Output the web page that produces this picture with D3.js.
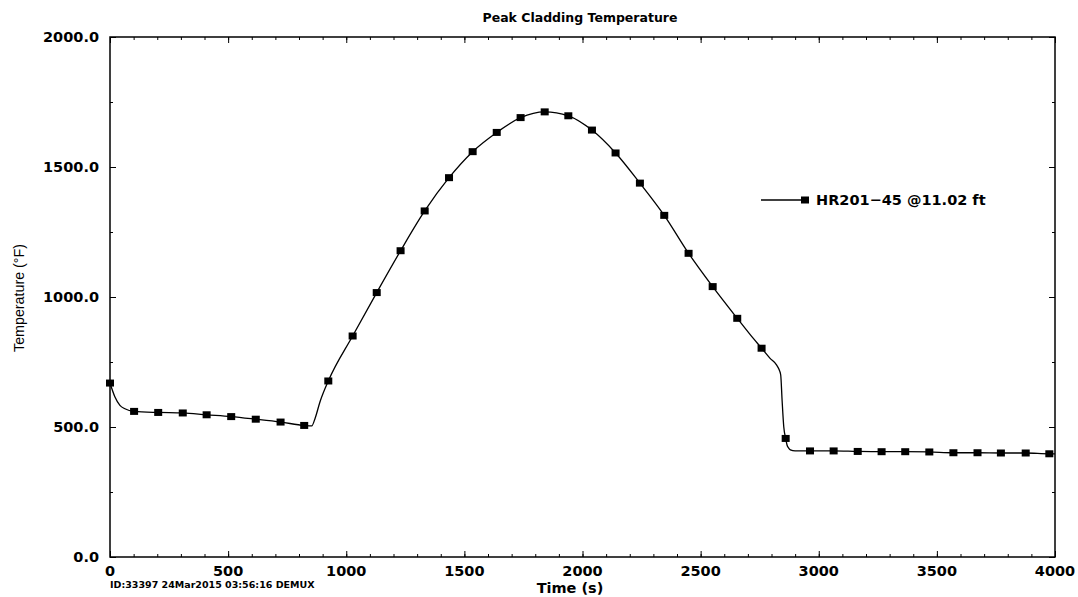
<!DOCTYPE html>
<html>
<head>
<meta charset="utf-8">
<script src="https://cdn.jsdelivr.net/npm/d3@7"></script>
<style>
  body { margin: 0; background: #fff; }
  text { fill: #000; }
</style>
</head>
<body>
<div id="chart"></div>
<script>
// curve (time s, temperature F)
const lineTime = [0, 21, 42, 63, 102, 204, 308, 409, 513, 617, 722, 822, 854, 868, 889, 924, 1027,
  1129, 1230, 1332, 1435, 1535, 1637, 1738, 1840, 1940, 2040, 2140, 2243, 2346, 2449, 2551,
  2655, 2709, 2758, 2794, 2822, 2833, 2839, 2845, 2852, 2860, 2866, 2872, 2880, 2900, 2963,
  3063, 3165, 3266, 3366, 3468, 3570, 3672, 3771, 3876, 3976, 4000];
const lineTemp = [669, 615, 583, 570, 560, 556, 554, 547, 540, 530, 519, 506, 504, 533, 597, 677, 850,
  1017, 1178, 1331, 1459, 1559, 1633, 1690, 1712, 1697, 1642, 1554, 1438, 1314, 1168, 1040,
  918, 856, 803, 764, 738, 719, 700, 600, 500, 456, 430, 420, 412, 408, 408,
  408, 406, 405, 405, 404, 401, 401, 400, 400, 397, 397];

// square markers
const markTime = [0, 102, 204, 308, 409, 513, 617, 722, 822, 924, 1027, 1129, 1230, 1332, 1435,
  1535, 1637, 1738, 1840, 1940, 2040, 2140, 2243, 2346, 2449, 2551, 2655, 2758, 2860, 2963,
  3063, 3165, 3266, 3366, 3468, 3570, 3672, 3771, 3876, 3976];
const markTemp = [669, 560, 556, 554, 547, 540, 530, 519, 506, 677, 850, 1017, 1178, 1331, 1459,
  1559, 1633, 1690, 1712, 1697, 1642, 1554, 1438, 1314, 1168, 1040, 918, 803, 456, 408,
  408, 406, 405, 405, 404, 401, 401, 400, 400, 397];

const xTicks = [0, 500, 1000, 1500, 2000, 2500, 3000, 3500, 4000];
const yTicks = [0, 500, 1000, 1500, 2000];
const seriesName = "HR201\u221245 @11.02 ft";

const wide = 1078;
const high = 597;
const padL = 110, padR = 1055, padT = 37, padB = 557;

const svg = d3.select("#chart").append("svg")
  .attr("width", wide)
  .attr("height", high);

const x = d3.scaleLinear().domain([0, 4000]).range([padL, padR]);
const y = d3.scaleLinear().domain([0, 2000]).range([padB, padT]);

const boldFont = "'DejaVu Sans', sans-serif";

// frame
svg.append("rect")
  .attr("x", padL).attr("y", padT)
  .attr("width", padR - padL).attr("height", padB - padT)
  .attr("fill", "none").attr("stroke", "#000").attr("stroke-width", 1.5);

// minor ticks on all four sides
const xMinor = d3.range(0, 4001, 100);
const yMinor = d3.range(0, 2001, 250);

function tickAxis(axis, tr, size, vals) {
  const g = svg.append("g").attr("transform", tr)
    .call(axis.tickValues(vals).tickSize(size).tickFormat(""));
  g.select(".domain").remove();
  g.selectAll("line").attr("stroke", "#000").attr("stroke-width", 1);
  return g;
}
tickAxis(d3.axisBottom(x), `translate(0,${padB})`, -3, xMinor);
tickAxis(d3.axisBottom(x), `translate(0,${padB})`, -6, xTicks);
tickAxis(d3.axisTop(x), `translate(0,${padT})`, -3, xMinor);
tickAxis(d3.axisTop(x), `translate(0,${padT})`, -6, xTicks);
tickAxis(d3.axisLeft(y), `translate(${padL},0)`, -3, yMinor);
tickAxis(d3.axisLeft(y), `translate(${padL},0)`, -6, yTicks);
tickAxis(d3.axisRight(y), `translate(${padR},0)`, -3, yMinor);
tickAxis(d3.axisRight(y), `translate(${padR},0)`, -6, yTicks);

// tick labels
svg.append("g").selectAll("text")
  .data(xTicks).enter().append("text")
  .attr("x", d => x(d))
  .attr("y", 576)
  .attr("text-anchor", "middle")
  .attr("font-family", boldFont)
  .attr("font-weight", "bold")
  .attr("font-size", 14.5)
  .text(d => d);

svg.append("g").selectAll("text")
  .data(yTicks).enter().append("text")
  .attr("x", 99)
  .attr("y", d => y(d))
  .attr("dy", "0.36em")
  .attr("text-anchor", "end")
  .attr("font-family", boldFont)
  .attr("font-weight", "bold")
  .attr("font-size", 14.5)
  .text(d => d3.format(".1f")(d));

// titles
svg.append("text")
  .attr("x", 580).attr("y", 22)
  .attr("text-anchor", "middle")
  .attr("font-family", boldFont)
  .attr("font-weight", "bold")
  .attr("font-size", 12.5)
  .text("Peak Cladding Temperature");

svg.append("text")
  .attr("x", 570).attr("y", 593)
  .attr("text-anchor", "middle")
  .attr("font-family", boldFont)
  .attr("font-weight", "bold")
  .attr("font-size", 14.5)
  .text("Time (s)");

svg.append("text")
  .attr("transform", "translate(24,298) rotate(-90)")
  .attr("text-anchor", "middle")
  .attr("font-family", "'Liberation Sans', Arial, sans-serif")
  .attr("font-size", 14.5)
  .attr("textLength", 108)
  .attr("lengthAdjust", "spacingAndGlyphs")
  .text("Temperature (\u00b0F)");

svg.append("text")
  .attr("x", 110).attr("y", 588)
  .attr("font-family", boldFont)
  .attr("font-weight", "bold")
  .attr("font-size", 9.5)
  .text("ID:33397 24Mar2015 03:56:16 DEMUX");

// the curve
const pts = lineTime.map((t, i) => [t, lineTemp[i]]);
const line = d3.line()
  .x(d => x(d[0]))
  .y(d => y(d[1]))
  .curve(d3.curveMonotoneX);

svg.append("path")
  .datum(pts)
  .attr("d", line)
  .attr("fill", "none")
  .attr("stroke", "#000")
  .attr("stroke-width", 1.3);

svg.append("g").selectAll("rect")
  .data(markTime.map((t, i) => [t, markTemp[i]]))
  .enter().append("rect")
  .attr("x", d => x(d[0]) - 4)
  .attr("y", d => y(d[1]) - 3.5)
  .attr("width", 8)
  .attr("height", 7)
  .attr("fill", "#000");

// legend
const lg = svg.append("g");
lg.append("line")
  .attr("x1", 761).attr("x2", 805)
  .attr("y1", 200).attr("y2", 200)
  .attr("stroke", "#000").attr("stroke-width", 1.3);
lg.append("rect")
  .attr("x", 801).attr("y", 196.5)
  .attr("width", 8).attr("height", 7)
  .attr("fill", "#000");
lg.append("text")
  .attr("x", 816).attr("y", 205)
  .attr("font-family", boldFont)
  .attr("font-weight", "bold")
  .attr("font-size", 14.5)
  .text(seriesName);
</script>
</body>
</html>
